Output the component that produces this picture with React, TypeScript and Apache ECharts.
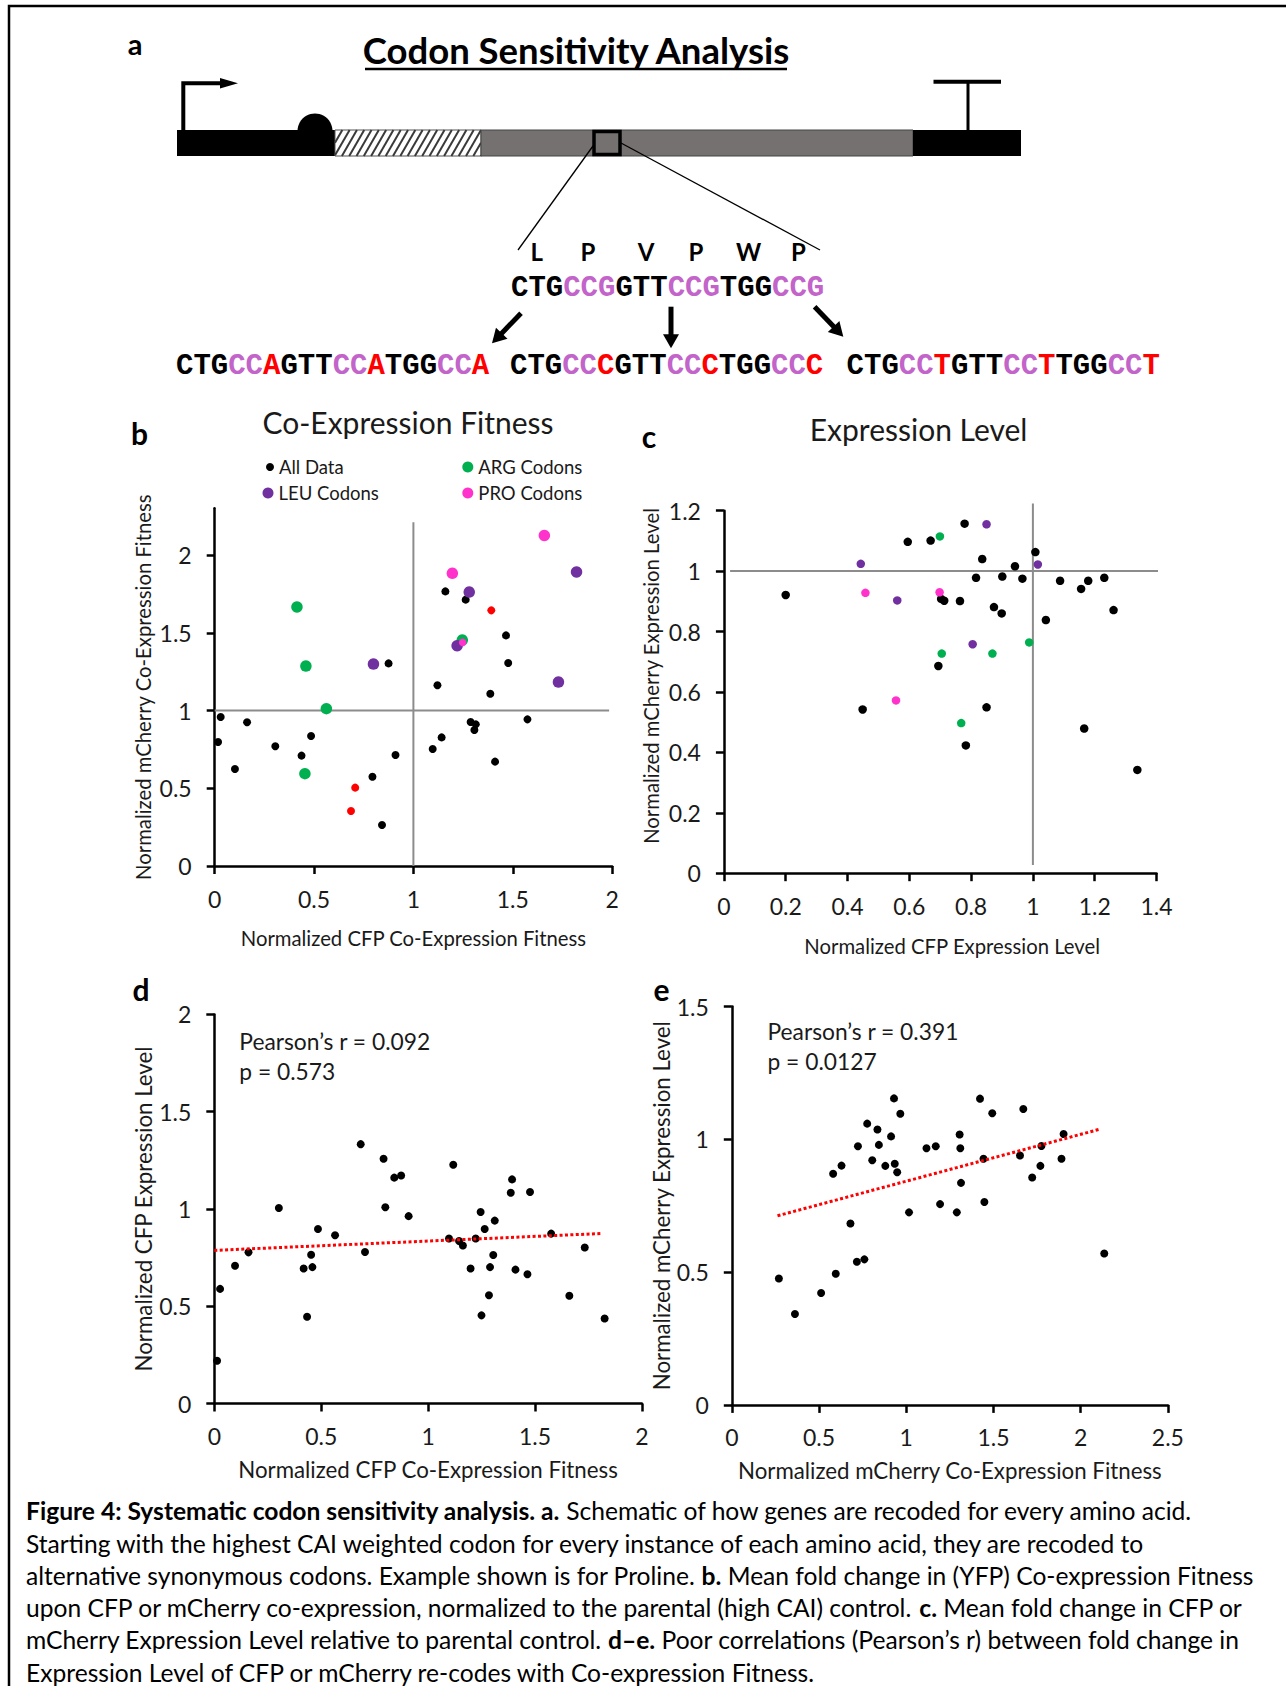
import React, { useEffect, useRef } from "react";
import * as echarts from "echarts";

const FONT = "Lato";
const MONO = "Liberation Mono";

// ---------- Panel b: Co-Expression Fitness (x: CFP, y: mCherry) ----------
const bAllData = [
  [0.017, 0.797], [0.03, 0.958], [0.102, 0.624], [0.163, 0.924], [0.305, 0.77],
  [0.437, 0.71], [0.485, 0.836], [0.794, 0.574], [0.842, 0.264], [0.875, 1.303],
  [0.91, 0.714], [1.097, 0.752], [1.121, 1.162], [1.142, 0.827], [1.161, 1.766],
  [1.263, 1.713], [1.288, 0.926], [1.314, 0.911], [1.307, 0.875], [1.387, 1.108],
  [1.411, 0.671], [1.466, 1.483], [1.477, 1.305], [1.574, 0.943],
];
const bRedData = [[1.392, 1.644], [0.707, 0.504], [0.686, 0.354]];
const bArgData = [[0.414, 1.666], [0.459, 1.286], [0.562, 1.012], [0.454, 0.594], [1.246, 1.453]];
const bLeuData = [[0.799, 1.299], [1.281, 1.762], [1.22, 1.417], [1.821, 1.891], [1.73, 1.183]];
const bProBigData = [[1.659, 2.126], [1.196, 1.882]];
const bProSmallData = [[1.248, 1.438]];
const bRefH = [[0, 1], [1.985, 1]];
const bRefV = [[1, 0], [1, 2.21]];
const bXTicks = [0, 0.5, 1, 1.5, 2];
const bYTicks = [0, 0.5, 1, 1.5, 2];

// ---------- Panel c: Expression Level ----------
const cAllData = [
  [0.2, 0.921], [0.449, 0.542], [0.595, 1.097], [0.669, 1.101], [0.694, 0.686],
  [0.703, 0.908], [0.713, 0.902], [0.764, 0.901], [0.779, 1.157], [0.783, 0.423],
  [0.816, 0.978], [0.836, 1.04], [0.85, 0.549], [0.874, 0.881], [0.899, 0.86],
  [0.901, 0.982], [0.942, 1.016], [0.966, 0.975], [1.008, 1.063], [1.042, 0.838],
  [1.088, 0.968], [1.156, 0.941], [1.179, 0.968], [1.166, 0.479], [1.231, 0.978],
  [1.261, 0.871], [1.338, 0.342],
];
const cLeuData = [[0.443, 1.024], [0.561, 0.903], [0.85, 1.155], [0.805, 0.758], [1.016, 1.022]];
const cArgData = [[0.699, 1.115], [0.705, 0.727], [0.869, 0.727], [0.768, 0.497], [0.988, 0.764]];
const cProData = [[0.458, 0.928], [0.698, 0.93], [0.557, 0.572]];
const cRefH = [[0.02, 1], [1.42, 1]];
const cRefV = [[1, 0.027], [1, 1.224]];
const cXTicks = [0, 0.2, 0.4, 0.6, 0.8, 1, 1.2, 1.4];
const cYTicks = [0, 0.2, 0.4, 0.6, 0.8, 1, 1.2];

// ---------- Panel d: CFP fitness vs CFP expression ----------
const dData = [
  [0.013, 0.22], [0.027, 0.589], [0.097, 0.708], [0.16, 0.777], [0.302, 1.005],
  [0.418, 0.694], [0.434, 0.446], [0.453, 0.765], [0.459, 0.701], [0.485, 0.897],
  [0.565, 0.865], [0.685, 1.333], [0.705, 0.779], [0.792, 1.258], [0.8, 1.009],
  [0.842, 1.161], [0.874, 1.172], [0.909, 0.963], [1.098, 0.848], [1.118, 1.227],
  [1.145, 0.835], [1.163, 0.812], [1.199, 0.694], [1.223, 0.848], [1.246, 0.984],
  [1.25, 0.453], [1.265, 0.897], [1.285, 0.556], [1.29, 0.701], [1.305, 0.763],
  [1.312, 0.94], [1.393, 1.152], [1.387, 1.083], [1.409, 0.688], [1.465, 0.664],
  [1.477, 1.087], [1.576, 0.873], [1.661, 0.554], [1.733, 0.802], [1.826, 0.437],
];
const dTrend = [[0, 0.787], [1.815, 0.874]];
const dXTicks = [0, 0.5, 1, 1.5, 2];
const dYTicks = [0, 0.5, 1, 1.5, 2];

// ---------- Panel e: mCherry fitness vs mCherry expression ----------
const eData = [
  [0.27, 0.476], [0.362, 0.342], [0.512, 0.421], [0.581, 0.87], [0.596, 0.494],
  [0.629, 0.901], [0.68, 0.683], [0.717, 0.539], [0.723, 0.974], [0.76, 0.548],
  [0.776, 1.059], [0.805, 0.921], [0.835, 1.037], [0.843, 0.979], [0.88, 0.9],
  [0.913, 1.011], [0.93, 1.154], [0.934, 0.908], [0.948, 0.876], [0.966, 1.096],
  [1.016, 0.725], [1.116, 0.966], [1.169, 0.974], [1.194, 0.756], [1.29, 0.725],
  [1.306, 1.018], [1.31, 0.966], [1.314, 0.836], [1.423, 1.153], [1.443, 0.927],
  [1.448, 0.764], [1.493, 1.098], [1.652, 0.939], [1.671, 1.114], [1.722, 0.856],
  [1.769, 0.9], [1.775, 0.975], [1.89, 0.927], [1.902, 1.02], [2.135, 0.57],
];
const eTrend = [[0.262, 0.712], [2.115, 1.039]];
const eXTicks = [0, 0.5, 1, 1.5, 2, 2.5];
const eYTicks = [0, 0.5, 1, 1.5];

// ---------- Texts ----------
const aminoAcids = ["L", "P", "V", "P", "W", "P"];
const seqTop = "{k|CTG}{v|CCG}{k|GTT}{v|CCG}{k|TGG}{v|CCG}";
const seqA = "{k|CTG}{v|CC}{r|A}{k|GTT}{v|CC}{r|A}{k|TGG}{v|CC}{r|A}";
const seqC = "{k|CTG}{v|CC}{r|C}{k|GTT}{v|CC}{r|C}{k|TGG}{v|CC}{r|C}";
const seqT = "{k|CTG}{v|CC}{r|T}{k|GTT}{v|CC}{r|T}{k|TGG}{v|CC}{r|T}";
const captionLines = [
  "{b|Figure 4: Systematic codon sensitivity analysis. a.} Schematic of how genes are recoded for every amino acid.",
  "Starting with the highest CAI weighted codon for every instance of each amino acid, they are recoded to",
  "alternative synonymous codons. Example shown is for Proline. {b|b.} Mean fold change in (YFP) Co-expression Fitness",
  "upon CFP or mCherry co-expression, normalized to the parental (high CAI) control. {b|c.} Mean fold change in CFP or",
  "mCherry Expression Level relative to parental control. {b|d\u2013e.} Poor correlations (Pearson\u2019s r) between fold change in",
  "Expression Level of CFP or mCherry re-codes with Co-expression Fitness.",
];

const GREEN = "#00b050";
const PURPLE = "#7030a0";
const PINK = "#ff33cc";
const RED = "#ff0000";
const VIOLET = "#c264c9";
const GRAYLINE = "#8c8c8c";
const TXT = "#1a1a1a";
const TICK_FONT = 23;
const CAP_FONT = 24.6;

function axis(opts: any) {
  const { gridIndex, min, max, ticks, name, nameGap, vertical, fontSize, nameSize, pad } = opts;
  return {
    type: "value",
    gridIndex,
    min,
    max,
    interval: ticks[1] - ticks[0],
    axisLine: { show: true, onZero: false, lineStyle: { color: "#000", width: 2.5 } },
    axisTick: { show: true, inside: false, length: 8, customValues: ticks, lineStyle: { color: "#000", width: 2.5 } },
    axisLabel: {
      show: true,
      customValues: ticks,
      margin: vertical ? 23 : 21,
      fontSize,
      fontFamily: FONT,
      color: TXT,
      formatter: (v: number) => String(Math.round(v * 100) / 100),
    },
    splitLine: { show: false },
    name,
    nameLocation: "middle",
    nameGap,
    nameRotate: vertical ? 90 : 0,
    nameTextStyle: { fontSize: nameSize, fontFamily: FONT, color: TXT, padding: pad || 0 },
  };
}

function txt(x: number, y: number, text: string, size: number, extra: any = {}) {
  return {
    type: "text",
    x,
    y,
    silent: true,
    style: {
      text,
      fontSize: size,
      fontFamily: FONT,
      fill: TXT,
      align: "center",
      verticalAlign: "middle",
      ...extra,
    },
  };
}

function arrow(x1: number, y1: number, x2: number, y2: number, w: number, hl: number, hw: number) {
  const dx = x2 - x1;
  const dy = y2 - y1;
  const L = Math.sqrt(dx * dx + dy * dy);
  const ux = dx / L;
  const uy = dy / L;
  const bx = x2 - ux * hl;
  const by = y2 - uy * hl;
  const px = -uy;
  const py = ux;
  return [
    { type: "line", silent: true, shape: { x1, y1, x2: bx + ux, y2: by + uy }, style: { stroke: "#000", lineWidth: w } },
    {
      type: "polygon",
      silent: true,
      shape: { points: [[x2, y2], [bx + px * hw, by + py * hw], [bx - px * hw, by - py * hw]] },
      style: { fill: "#000" },
    },
  ];
}

function hatchLines(x0: number, x1: number, yTop: number, yBot: number, step: number, slant: number) {
  const els: any[] = [];
  for (let s = x0 - slant; s < x1; s += step) {
    const tMin = Math.max(0, (x0 - s) / slant);
    const tMax = Math.min(1, (x1 - s) / slant);
    if (tMax <= tMin) continue;
    const h = yBot - yTop;
    els.push({
      type: "line",
      silent: true,
      shape: { x1: s + slant * tMin, y1: yBot - h * tMin, x2: s + slant * tMax, y2: yBot - h * tMax },
      style: { stroke: "#3a3a3a", lineWidth: 2 },
    });
  }
  return els;
}

function buildOption() {
  const seqRich = {
    k: { fill: "#000", fontFamily: MONO, fontWeight: "bold", fontSize: 29 },
    v: { fill: VIOLET, fontFamily: MONO, fontWeight: "bold", fontSize: 29 },
    r: { fill: RED, fontFamily: MONO, fontWeight: "bold", fontSize: 29 },
  };
  const capRich = {
    b: { fontWeight: "bold", fontFamily: FONT, fontSize: CAP_FONT, fill: "#000" },
  };
  const aaX = [536.7, 588, 646, 696, 748.5, 798.3];

  const graphic: any[] = [
    // figure border
    { type: "rect", silent: true, shape: { x: 9, y: 6, width: 1300, height: 1700 }, style: { fill: "none", stroke: "#000", lineWidth: 2.5 } },
    txt(135, 43, "a", 29, { fontWeight: "bold", fill: "#000" }),
    txt(576, 50, "Codon Sensitivity Analysis", 36.5, { fontWeight: "bold", fill: "#000" }),
    { type: "line", silent: true, shape: { x1: 365, y1: 69, x2: 787, y2: 69 }, style: { stroke: "#000", lineWidth: 2.5 } },
    // promoter arrow
    { type: "polyline", silent: true, shape: { points: [[183.3, 131], [183.3, 83.3], [222, 83.3]] }, style: { stroke: "#000", lineWidth: 4, fill: "none" } },
    { type: "polygon", silent: true, shape: { points: [[220, 78], [238, 83.3], [220, 88.6]] }, style: { fill: "#000" } },
    // RBS
    { type: "circle", silent: true, shape: { cx: 315, cy: 131, r: 17.5 }, style: { fill: "#000" } },
    // gene bar
    { type: "rect", silent: true, shape: { x: 177, y: 130, width: 158, height: 26 }, style: { fill: "#000" } },
    { type: "rect", silent: true, shape: { x: 335, y: 130, width: 146, height: 26 }, style: { fill: "#fff", stroke: "#555", lineWidth: 1 } },
    ...hatchLines(335, 481, 130, 156, 7.3, 15),
    { type: "rect", silent: true, shape: { x: 481, y: 130, width: 432, height: 26 }, style: { fill: "#767171", stroke: "#444", lineWidth: 1 } },
    { type: "rect", silent: true, shape: { x: 913, y: 130, width: 108, height: 26 }, style: { fill: "#000" } },
    // terminator
    { type: "line", silent: true, shape: { x1: 968, y1: 130, x2: 968, y2: 81.7 }, style: { stroke: "#000", lineWidth: 3 } },
    { type: "line", silent: true, shape: { x1: 933.5, y1: 81.7, x2: 1001, y2: 81.7 }, style: { stroke: "#000", lineWidth: 4 } },
    // zoom box
    { type: "rect", silent: true, shape: { x: 594, y: 131.5, width: 26, height: 23 }, style: { fill: "none", stroke: "#000", lineWidth: 3.5 } },
    { type: "line", silent: true, shape: { x1: 593, y1: 146, x2: 518, y2: 250 }, style: { stroke: "#000", lineWidth: 1.3 } },
    { type: "line", silent: true, shape: { x1: 621, y1: 143, x2: 820, y2: 250 }, style: { stroke: "#000", lineWidth: 1.3 } },
    // amino acids
    ...aminoAcids.map((a, i) => txt(aaX[i], 251.7, a, 24, { fontWeight: "bold", fill: "#000" })),
    // sequences
    { type: "text", silent: true, x: 511, y: 288.3, style: { text: seqTop, rich: seqRich, fontFamily: MONO, fontWeight: "bold", fontSize: 29, align: "left", verticalAlign: "middle" } },
    ...arrow(521, 313.3, 492, 343.3, 5, 14, 8),
    ...arrow(671, 306.7, 671, 348.3, 5, 14, 8),
    ...arrow(814.6, 306.7, 843.3, 336.7, 5, 14, 8),
    { type: "text", silent: true, x: 176, y: 366.7, style: { text: seqA, rich: seqRich, fontFamily: MONO, fontWeight: "bold", fontSize: 29, align: "left", verticalAlign: "middle" } },
    { type: "text", silent: true, x: 510, y: 366.7, style: { text: seqC, rich: seqRich, fontFamily: MONO, fontWeight: "bold", fontSize: 29, align: "left", verticalAlign: "middle" } },
    { type: "text", silent: true, x: 846.6, y: 366.7, style: { text: seqT, rich: seqRich, fontFamily: MONO, fontWeight: "bold", fontSize: 29, align: "left", verticalAlign: "middle" } },
    // panel letters and titles
    txt(139.6, 433, "b", 30, { fontWeight: "bold", fill: "#000" }),
    txt(649, 435.7, "c", 30, { fontWeight: "bold", fill: "#000" }),
    txt(141, 989, "d", 30, { fontWeight: "bold", fill: "#000" }),
    txt(661.4, 989, "e", 30, { fontWeight: "bold", fill: "#000" }),
    txt(408, 421.7, "Co-Expression Fitness", 30),
    txt(918.6, 428.6, "Expression Level", 30),
    // correlation annotations
    txt(239.3, 1040.9, "Pearson\u2019s r = 0.092", 22.8, { align: "left" }),
    txt(239.3, 1070.9, "p = 0.573", 22.8, { align: "left" }),
    txt(767.5, 1031.3, "Pearson\u2019s r = 0.391", 22.8, { align: "left" }),
    txt(767.5, 1060.9, "p = 0.0127", 22.8, { align: "left" }),
    // caption
    ...captionLines.map((line, i) => ({
      type: "text",
      silent: true,
      x: 26,
      y: 1510.8 + i * 32.25,
      style: { text: line, rich: capRich, fontFamily: FONT, fontSize: CAP_FONT, fill: "#000", align: "left", verticalAlign: "middle" },
    })),
  ];

  const dot = (name: string, data: any, xi: number, color: string, size: number, z = 3) => ({
    type: "scatter",
    name,
    xAxisIndex: xi,
    yAxisIndex: xi,
    data,
    symbol: "circle",
    symbolSize: size,
    itemStyle: { color, opacity: 1 },
    silent: true,
    z,
  });
  const ref = (data: any, xi: number) => ({
    type: "line",
    xAxisIndex: xi,
    yAxisIndex: xi,
    data,
    symbol: "none",
    clip: false,
    silent: true,
    lineStyle: { color: GRAYLINE, width: 2 },
    z: 1,
  });
  const trend = (data: any, xi: number) => ({
    type: "line",
    xAxisIndex: xi,
    yAxisIndex: xi,
    data,
    symbol: "none",
    clip: false,
    silent: true,
    lineStyle: { color: RED, width: 3, type: [3, 2.4] },
    z: 4,
  });

  const legendItem = (name: string, color: string, size: number, left: number, top: number) => ({
    data: [{ name, icon: "circle", itemStyle: { color } }],
    left,
    top,
    padding: 0,
    itemWidth: size,
    itemHeight: size,
    selectedMode: false,
    textStyle: { fontSize: 18.5, fontFamily: FONT, color: TXT },
  });

  return {
    animation: false,
    backgroundColor: "#fff",
    textStyle: { fontFamily: FONT },
    graphic,
    legend: [
      legendItem("All Data", "#000", 8, 266, 457.5),
      legendItem("LEU Codons", PURPLE, 11, 262.5, 483.5),
      legendItem("ARG Codons", GREEN, 11, 462.3, 457.5),
      legendItem("PRO Codons", PINK, 11, 462.3, 483.5),
    ],
    grid: [
      { left: 214.7, top: 508.35, width: 397.4, height: 357.65, outerBoundsMode: "none" },
      { left: 723.9, top: 510.7, width: 432.6, height: 362.5, outerBoundsMode: "none" },
      { left: 214.3, top: 1014.4, width: 427.5, height: 389.1, outerBoundsMode: "none" },
      { left: 731.8, top: 1006.5, width: 436.1, height: 398.4, outerBoundsMode: "none" },
    ],
    xAxis: [
      axis({ gridIndex: 0, min: 0, max: 2, ticks: bXTicks, name: "Normalized CFP Co-Expression Fitness", nameGap: 62, vertical: false, fontSize: TICK_FONT, nameSize: 20.3 }),
      axis({ gridIndex: 1, min: 0, max: 1.4, ticks: cXTicks, name: "Normalized CFP Expression Level", nameGap: 62.7, vertical: false, fontSize: TICK_FONT, nameSize: 20.3, pad: [0, 0, 0, 24] }),
      axis({ gridIndex: 2, min: 0, max: 2, ticks: dXTicks, name: "Normalized CFP Co-Expression Fitness", nameGap: 55, vertical: false, fontSize: TICK_FONT, nameSize: 22.3 }),
      axis({ gridIndex: 3, min: 0, max: 2.5, ticks: eXTicks, name: "Normalized mCherry Co-Expression Fitness", nameGap: 55, vertical: false, fontSize: TICK_FONT, nameSize: 22.3 }),
    ],
    yAxis: [
      axis({ gridIndex: 0, min: 0, max: 2.3, ticks: bYTicks, name: "Normalized mCherry Co-Expression Fitness", nameGap: 62, vertical: true, fontSize: TICK_FONT, nameSize: 20.3 }),
      axis({ gridIndex: 1, min: 0, max: 1.2, ticks: cYTicks, name: "Normalized mCherry Expression Level", nameGap: 63, vertical: true, fontSize: TICK_FONT, nameSize: 20.3, pad: [0, 0, 0, 32] }),
      axis({ gridIndex: 2, min: 0, max: 2, ticks: dYTicks, name: "Normalized CFP Expression Level", nameGap: 60, vertical: true, fontSize: TICK_FONT, nameSize: 22.3 }),
      axis({ gridIndex: 3, min: 0, max: 1.5, ticks: eYTicks, name: "Normalized mCherry Expression Level", nameGap: 59, vertical: true, fontSize: TICK_FONT, nameSize: 22.3 }),
    ],
    series: [
      ref(bRefH, 0),
      ref(bRefV, 0),
      dot("All Data", bAllData, 0, "#000", 8),
      dot("Highlighted", bRedData, 0, RED, 8),
      dot("ARG Codons", bArgData, 0, GREEN, 11.5),
      dot("LEU Codons", bLeuData, 0, PURPLE, 11.5),
      dot("PRO Codons", bProBigData, 0, PINK, 11.5),
      dot("PRO Codons", bProSmallData, 0, PINK, 7.5, 4),
      ref(cRefH, 1),
      ref(cRefV, 1),
      dot("All Data", cAllData, 1, "#000", 8.5),
      dot("LEU Codons", cLeuData, 1, PURPLE, 8.5),
      dot("ARG Codons", cArgData, 1, GREEN, 8.5),
      dot("PRO Codons", cProData, 1, PINK, 8.5),
      dot("CFP recodes", dData, 2, "#000", 8),
      trend(dTrend, 2),
      dot("mCherry recodes", eData, 3, "#000", 8),
      trend(eTrend, 3),
    ],
  };
}

export default function App() {
  const ref = useRef<HTMLDivElement>(null);
  useEffect(() => {
    document.body.style.margin = "0";
    const chart = echarts.init(ref.current!, null, { renderer: "svg" });
    chart.setOption(buildOption() as any);
    return () => chart.dispose();
  }, []);
  return <div ref={ref} style={{ width: 1286, height: 1686, background: "#fff" }} />;
}
